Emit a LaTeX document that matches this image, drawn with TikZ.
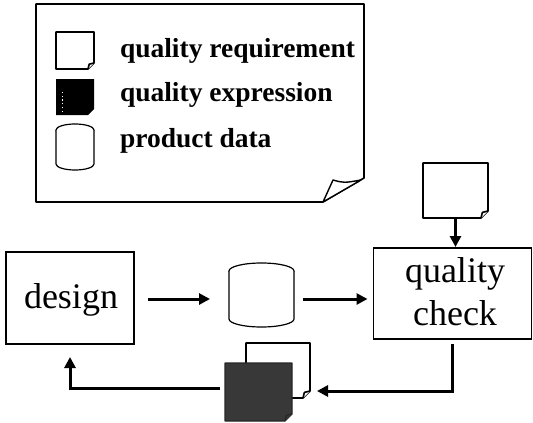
\documentclass[tikz,border=0pt]{standalone}
\usepackage{fontspec}
\setmainfont{Liberation Serif}
\usetikzlibrary{calc,arrows.meta}
\newcommand\docshape[3]{% node, options, cut
  \draw[#2] (#1.north west) -- (#1.north east) -- ($(#1.south east)+(0,-#3)$) -- ($(#1.south east)+(-#3,0)$) -- (#1.south west) -- cycle;
  \draw[#2] ($(#1.south east)+(-#3,0)$) -- ($(#1.south east)+(-0.8*#3,-0.8*#3)$) -- ($(#1.south east)+(0,-#3)$);}
\newcommand\cylshape[3]{% node, rx, ry
  \draw[cylline] ($(#1.north)+(0,#3)$) ellipse[x radius=#2, y radius=#3];
  \draw[cylline] ($(#1.north west)+(0,#3)$) -- ($(#1.south west)+(0,-#3)$) arc[start angle=180, end angle=0, x radius=#2, y radius=#3] -- ($(#1.north east)+(0,#3)$);}
\begin{document}
\begin{tikzpicture}[x=1pt,y=-1pt,
  every node/.style={inner sep=0pt, outer sep=0pt},
  box/.style={draw, line width=1.4pt, rectangle},
  ghost/.style={draw=none, rectangle},
  legtext/.style={anchor=base west, font=\fontsize{27.5}{32}\selectfont\bfseries},
  bigtext/.style={font=\fontsize{36}{43}\selectfont},
  docline/.style={line width=1.6pt, fill=white, line join=round},
  darkdoc/.style={line width=1.2pt, fill=black!78, draw=black!85, line join=round},
  cylline/.style={line width=1.2pt, fill=white},
  arr/.style={line width=3pt, -{Triangle[length=11pt,width=11pt]}}
]
\useasboundingbox (0,0) rectangle (533,423);

% legend sheet
\node[ghost, minimum width=328pt, minimum height=198pt] (legend) at (200,103) {};
\draw[line width=1.6pt, line join=round, fill=white] (legend.north west) -- (legend.north east) -- ($(legend.south east)+(0,-24)$) -- ($(legend.south east)+(-41,0)$) -- (legend.south west) -- cycle;
\draw[line width=1.4pt, fill=white, line join=round] ($(legend.south east)+(-41,0)$) -- ($(legend.south east)+(-31,-22)$) .. controls ($(legend.south east)+(-20,-19)$) .. ($(legend.south east)+(-3,-22)$) -- cycle;

% legend icons
\node[ghost, minimum width=38pt, minimum height=37pt] (lreq) at (75,50.5) {};
\docshape{lreq}{docline}{6}
\node[ghost, minimum width=38pt, minimum height=36pt] (lexpr) at (75,97) {};
\fill[black] (lexpr.north west) -- (lexpr.north east) -- ($(lexpr.south east)+(0,-6)$) -- ($(lexpr.south east)+(-6,0)$) -- (lexpr.south west) -- cycle;
\draw[white, line width=1.2pt, dash pattern=on 1.2pt off 2.6pt] ($(lexpr.south west)+(6.5,-3)$) -- ($(lexpr.north west)+(6.5,12)$);
\node[ghost, minimum width=38pt, minimum height=46pt] (ldata) at (75,147) {};
\cylshape{ldata}{19}{6}

% legend texts
\node[legtext] (treq) at (120,57) {quality requirement};
\node[legtext] (texpr) at (120,101) {quality expression};
\node[legtext] (tdata) at (120,147) {product data};

% main diagram
\node[box, minimum width=128pt, minimum height=92pt] (design) at (70,298) {};
\node[bigtext, anchor=base] at (71,308) {design};
\node[ghost, minimum width=65pt, minimum height=64pt] (data) at (261.5,295) {};
\cylshape{data}{32.5}{8}
\node[box, minimum width=158pt, minimum height=91pt] (qcheck) at (452.5,293.5) {};
\node[bigtext, anchor=base] (q1) at (455,282) {quality};
\node[bigtext, anchor=base] (q2) at (455,325) {check};

\node[ghost, minimum width=65pt, minimum height=55pt] (reqdoc) at (455.5,190.5) {};
\docshape{reqdoc}{docline}{7}

\node[ghost, minimum width=64pt, minimum height=55pt] (backdoc) at (278,370.5) {};
\docshape{backdoc}{docline}{7}
\node[ghost, minimum width=67pt, minimum height=58pt] (exprdoc) at (258.5,392) {};
\docshape{exprdoc}{darkdoc}{7}

% connectors
\coordinate (b2) at (317,391);
\coordinate (b3) at (225,388);
\draw[arr, shorten <=14pt, shorten >=19pt] (design.east |- 0,299) -- (data.west |- 0,299);
\draw[arr, shorten <=9pt, shorten >=6pt] (data.east |- 0,299) -- (qcheck.west |- 0,299);
\draw[arr, shorten >=1pt] (reqdoc.south) -- (reqdoc.south |- qcheck.north);
\draw[arr, shorten <=5pt] (qcheck.south) |- (b2);
\draw[arr, shorten <=5pt, shorten >=13pt] (b3) -| (design.south);
\end{tikzpicture}
\end{document}
